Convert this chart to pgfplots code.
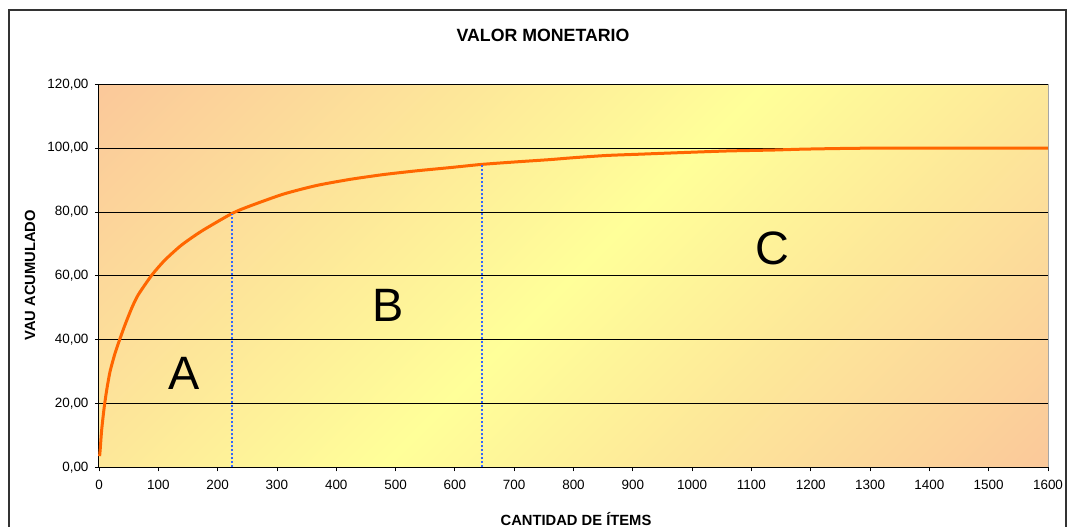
\documentclass[border=0pt]{standalone}
\usepackage{pgfplots}
\pgfplotsset{compat=1.18}
\usepackage{fontspec}
\setmainfont{Liberation Sans}
\definecolor{peach}{HTML}{FBC99A}
\definecolor{lyel}{HTML}{FFFF99}
\definecolor{curve}{HTML}{FF6600}
\definecolor{dblue}{HTML}{3366FF}
\pgfdeclarehorizontalshading{excelgrad}{100bp}{color(0bp)=(peach); color(15bp)=(peach); color(50bp)=(lyel); color(85bp)=(peach); color(100bp)=(peach)}
\begin{document}
\begin{tikzpicture}[x=1bp,y=1bp]
\begin{axis}[
  at={(0,0)}, anchor=south west,
  scale only axis, width=949bp, height=383bp,
  xmin=0, xmax=1600, ymin=0, ymax=120,
  xtick={0,100,...,1600}, ytick={0,20,...,120},
  axis x line*=bottom, axis y line*=left,
  ymajorgrids, major grid style={black, line width=0.8bp},
  tick align=outside, major tick length=4bp,
  tick style={black, line width=0.8bp},
  axis line style={black, line width=1bp},
  axis background/.style={shading=excelgrad, shading angle=-45},
  ticklabel style={font=\fontsize{13.5}{15}\selectfont},
  xticklabel style={yshift=-5bp, /pgf/number format/.cd, fixed, precision=0, 1000 sep={}, assume math mode=true},
  yticklabel style={xshift=-3bp, /pgf/number format/.cd, fixed, fixed zerofill, precision=2, use comma, assume math mode=true},
  clip=false,
]
\addplot[curve, line width=3bp, no marks, smooth, tension=0.4, line join=round] coordinates {
(1,3.5) (2,5.5) (4.5,11.7) (8.9,19.0) (13,24.2) (18.5,29.9) (27,35.7) (35.4,40.3)
(43.8,44.6) (55,49.8) (66,54.0) (89,60.2) (111,64.9) (139,69.6) (173,74.0)
(224,79.5) (255,81.9) (311,85.6) (367,88.3) (423,90.2) (479,91.7) (536,92.9)
(592,93.9) (645,94.9) (704,95.7) (760,96.4) (800,97.0) (856,97.7) (912,98.1)
(968,98.5) (1058,99.1) (1137,99.4) (1193,99.7) (1312,100) (1600,100)
};
\addplot[dblue, line width=2.4bp, dash pattern=on 2bp off 2bp, no marks] coordinates {(224.24,0) (224.24,79.3)};
\addplot[dblue, line width=2.4bp, dash pattern=on 2bp off 2bp, no marks] coordinates {(645.75,0) (645.75,94.7)};
\draw[gray!70, line width=1bp] (rel axis cs:1,0) -- (rel axis cs:1,1);
\node[font=\fontsize{47}{50}\selectfont] at (axis cs:143,29.5) {A};
\node[font=\fontsize{47}{50}\selectfont] at (axis cs:487,50.8) {B};
\node[font=\fontsize{47}{50}\selectfont] at (axis cs:1135,68.7) {C};
\end{axis}
\node[font=\bfseries\fontsize{17.8}{20}\selectfont] at (444,432.3) {VALOR MONETARIO};
\node[font=\bfseries\fontsize{14.8}{17}\selectfont] at (477,-51.7) {CANTIDAD DE ÍTEMS};
\node[rotate=90, font=\bfseries\fontsize{14.8}{17}\selectfont] at (-69,192) {VAU ACUMULADO};
\draw[black!80, line width=1.5bp] (-90,-80) -- (-90,457.3) -- (967,457.3) -- (967,-80);
\pgfresetboundingbox
\useasboundingbox (-99,-59.7) rectangle (971,467.3);
\end{tikzpicture}
\end{document}
